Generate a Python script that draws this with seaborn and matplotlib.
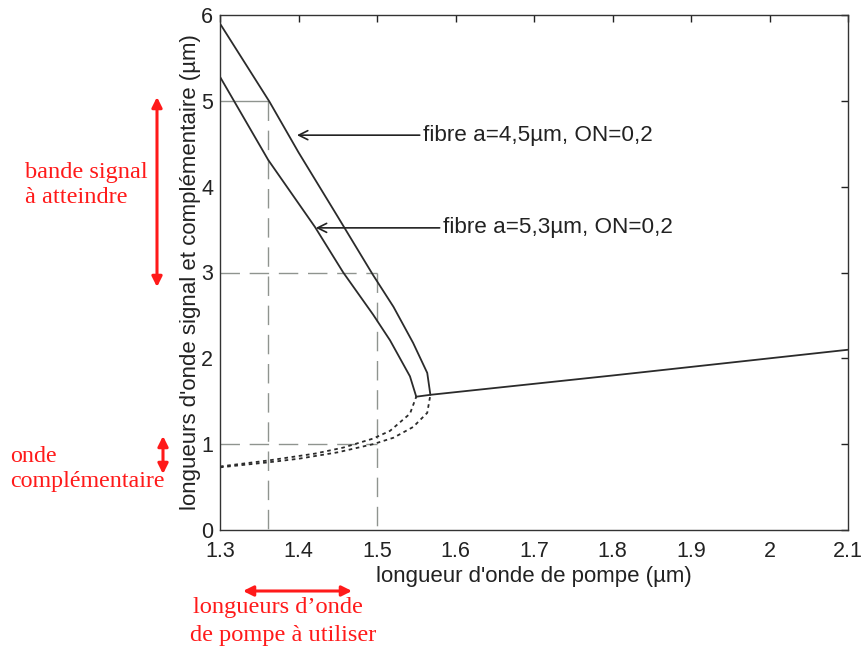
import matplotlib
matplotlib.use("Agg")
import matplotlib.pyplot as plt
from matplotlib.patches import FancyArrowPatch
import seaborn as sns
import pandas as pd

# ---- data ----
pump_a45 = [1.300, 1.363, 1.400, 1.450, 1.495, 1.521, 1.546, 1.564, 1.568]
signal_a45 = [5.90, 4.99, 4.40, 3.65, 2.97, 2.60, 2.18, 1.83, 1.575]
idler_a45 = [0.73, 0.79, 0.83, 0.905, 1.00, 1.075, 1.20, 1.365, 1.575]

pump_a53 = [1.300, 1.3615, 1.421, 1.457, 1.495, 1.5166, 1.542, 1.550]
signal_a53 = [5.28, 4.31, 3.53, 3.00, 2.51, 2.21, 1.79, 1.553]
idler_a53 = [0.74, 0.81, 0.89, 0.96, 1.065, 1.155, 1.355, 1.553]

pump_deg = [1.550, 1.568, 1.800, 2.100]
signal_deg = [1.553, 1.575, 1.800, 2.100]

guide_pump = [1.361, 1.500]
guide_signal = [5.0, 3.0]
guide_idler = 1.0

x_ticks = [1.3, 1.4, 1.5, 1.6, 1.7, 1.8, 1.9, 2.0, 2.1]
x_tick_labels = ["1.3", "1.4", "1.5", "1.6", "1.7", "1.8", "1.9", "2", "2.1"]
y_ticks = [0, 1, 2, 3, 4, 5, 6]

label_a45 = "fibre a=4,5µm, ON=0,2"
label_a53 = "fibre a=5,3µm, ON=0,2"

sns.set_style("white")
plt.rcParams["font.family"] = ["Liberation Sans", "DejaVu Sans"]

fs_tick = 15.5
fs_label = 16.0
fs_note = 16.2

fig = plt.figure(figsize=(8.62, 6.53), dpi=100)
ax = fig.add_axes([220 / 862, 1 - 530 / 653, 628 / 862, 515 / 653])

line_col = "#2b2b2b"
guide_col = "#8f948f"
text_col = "#222222"

# guide lines
dash = (0, (14, 7))
ax.plot([1.3, guide_pump[0]], [guide_signal[0]] * 2, color=guide_col, lw=1.0)
ax.plot([guide_pump[0]] * 2, [guide_signal[0], 0], color=guide_col, lw=1.0, linestyle=dash)
ax.plot([1.3, guide_pump[1]], [guide_signal[1]] * 2, color=guide_col, lw=1.0, linestyle=dash)
ax.plot([guide_pump[1]] * 2, [guide_signal[1], 0], color=guide_col, lw=1.0, linestyle=dash)
ax.plot([1.3, guide_pump[1]], [guide_idler] * 2, color=guide_col, lw=1.0, linestyle=dash)

# curves
df45 = pd.DataFrame({"pump": pump_a45, "signal": signal_a45, "idler": idler_a45})
df53 = pd.DataFrame({"pump": pump_a53, "signal": signal_a53, "idler": idler_a53})
dfdeg = pd.DataFrame({"pump": pump_deg, "signal": signal_deg})

for df in (df45, df53):
    sns.lineplot(data=df, x="pump", y="signal", sort=False, estimator=None,
                 color=line_col, lw=1.3, ax=ax)
    sns.lineplot(data=df, x="pump", y="idler", sort=False, estimator=None,
                 color=line_col, lw=1.3, linestyle=(0, (2, 2)), ax=ax)
sns.lineplot(data=dfdeg, x="pump", y="signal", sort=False, estimator=None,
             color=line_col, lw=1.3, ax=ax)

# fibre annotations
ax.annotate(label_a45, xy=(1.398, 4.60), xytext=(1.5586, 4.60),
            va="center", ha="left", fontsize=fs_note, color=text_col,
            arrowprops=dict(arrowstyle="->", color=text_col, lw=1.2,
                            shrinkA=0, shrinkB=0))
ax.annotate(label_a53, xy=(1.422, 3.52), xytext=(1.584, 3.52),
            va="center", ha="left", fontsize=fs_note, color=text_col,
            arrowprops=dict(arrowstyle="->", color=text_col, lw=1.2,
                            shrinkA=0, shrinkB=0))

ax.set_xlim(1.3, 2.1)
ax.set_ylim(0, 6)
ax.set_xticks(x_ticks)
ax.set_xticklabels(x_tick_labels)
ax.set_yticks(y_ticks)
ax.tick_params(direction="in", length=5, top=True, right=True,
               labelsize=fs_tick, colors=text_col, width=1)
ax.tick_params(axis="x", pad=8)
ax.tick_params(axis="y", pad=5)
for s in ax.spines.values():
    s.set_color("#333333")
    s.set_linewidth(1.0)
ax.set_xlabel("longueur d'onde de pompe (µm)", fontsize=fs_label, color=text_col, labelpad=3)
ax.set_ylabel("longueurs d'onde signal et complémentaire (µm)", fontsize=fs_label,
              color=text_col, labelpad=0)

# red annotations (figure coordinates in pixels)
W, H = 862, 653
def fp(x, y):
    return (x / W, 1 - y / H)

red = "#ff1a1a"
serif = ["Liberation Serif", "DejaVu Serif"]
fig.text(*fp(25, 185), "bande signal\nà atteindre", color=red, fontsize=17.6,
         family=serif, ha="left", va="center", linespacing=1.25)
fig.text(*fp(10, 469), "onde\ncomplémentaire", color=red, fontsize=17.3,
         family=serif, ha="left", va="center", linespacing=1.25)
fig.text(*fp(193, 608), "longueurs d\u2019onde", color=red,
         fontsize=17.6, family=serif, ha="left", va="center")
fig.text(*fp(190, 635), "de pompe à utiliser", color=red,
         fontsize=17.6, family=serif, ha="left", va="center")

arrow_kw = dict(arrowstyle="<|-|>", color=red, lw=2.2, mutation_scale=15,
                shrinkA=0, shrinkB=0)
for (x0, y0, x1, y1) in [(157, 97, 157, 287), (163, 436, 163, 474), (243, 591, 352, 591)]:
    p = FancyArrowPatch(fp(x0, y0), fp(x1, y1), transform=fig.transFigure, **arrow_kw)
    fig.patches.append(p)

fig.savefig("out.png", dpi=100)
